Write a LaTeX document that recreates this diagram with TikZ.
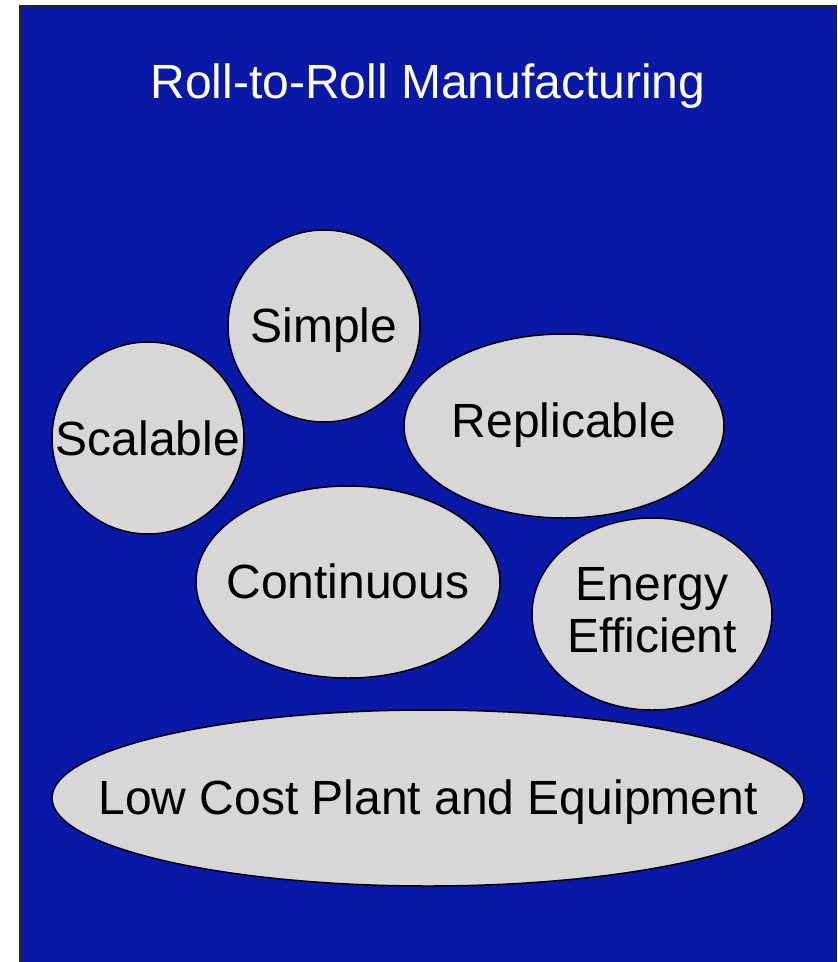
\documentclass[tikz,border=0pt]{standalone}
\usepackage{fontspec}
\setmainfont{Liberation Sans}
\usetikzlibrary{shapes.geometric}
\definecolor{bgblue}{HTML}{0A18A8}
\definecolor{blobgray}{HTML}{D7D7D7}
\begin{document}
\begin{tikzpicture}[x=1pt,y=-1pt,
  blob/.style={ellipse,draw=black,line width=1.5pt,fill=blobgray,inner sep=0pt},
  lbl/.style={font=\fontsize{48}{55}\selectfont,text=black,align=center,inner sep=0pt,anchor=base,yshift=-17pt},
  lbltwo/.style={font=\fontsize{48}{52}\selectfont,text=black,align=center,inner sep=0pt}]
\useasboundingbox (0,0) rectangle (838,962);
\begin{scope}
\clip (0,0) rectangle (838,962);
\draw[fill=bgblue,draw=black!85,line width=2pt] (20,6) rectangle (836,980);
\end{scope}
\node[lbl,text=white,yshift=4pt] (title) at (428,85) {Roll-to-Roll Manufacturing};
\node[blob,minimum width=192pt,minimum height=192pt] (simple) at (324,326) {};
\node[lbl,yshift=1pt] (simpletxt) at (simple) {Simple};
\node[blob,minimum width=192pt,minimum height=192pt] (scalable) at (148,438) {};
\node[lbl] (scalabletxt) at (scalable) {Scalable};
\node[blob,minimum width=320pt,minimum height=184pt] (replicable) at (564,426) {};
\node[lbl,yshift=6pt] (replicabletxt) at (replicable) {Replicable};
\node[blob,minimum width=304pt,minimum height=192pt] (continuous) at (348,582) {};
\node[lbl,yshift=1pt] (continuoustxt) at (continuous) {Continuous};
\node[blob,minimum width=240pt,minimum height=192pt] (energy) at (652,614) {};
\node[lbltwo,yshift=3.5pt] (energytxt) at (energy) {Energy\\Efficient};
\node[blob,minimum width=752pt,minimum height=176pt] (lowcost) at (428,798) {};
\node[lbl,yshift=1pt] (lowcosttxt) at (lowcost) {Low Cost Plant and Equipment};
\end{tikzpicture}
\end{document}
